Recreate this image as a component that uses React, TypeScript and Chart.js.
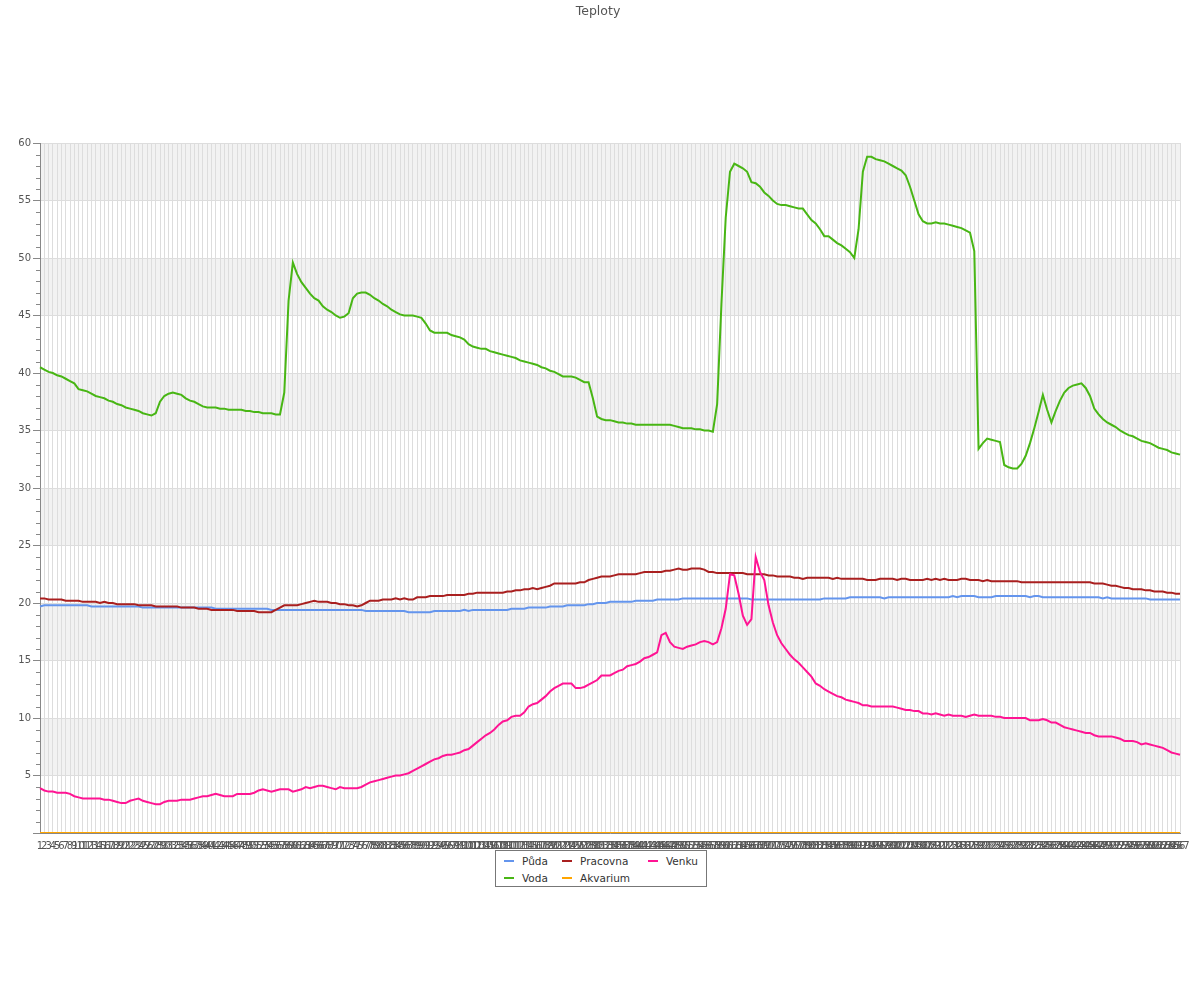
import React, { useEffect, useRef } from 'react';
import { Chart, registerables } from 'chart.js';

Chart.register(...registerables);

const FONT = "'DejaVu Sans', sans-serif";

// Category labels 1..267
const labels: string[] = Array.from({ length: 267 }, (_, i) => String(i + 1));

const yTicks = [0, 5, 10, 15, 20, 25, 30, 35, 40, 45, 50, 55, 60];

const puda = [
  19.7, 19.8, 19.8, 19.8, 19.8, 19.8, 19.8, 19.8, 19.8, 19.8,
  19.8, 19.8, 19.7, 19.7, 19.7, 19.7, 19.7, 19.7, 19.7, 19.7,
  19.7, 19.7, 19.7, 19.7, 19.6, 19.6, 19.6, 19.6, 19.6, 19.6,
  19.6, 19.6, 19.6, 19.6, 19.6, 19.6, 19.6, 19.6, 19.6, 19.6,
  19.6, 19.5, 19.5, 19.5, 19.5, 19.5, 19.5, 19.5, 19.5, 19.5,
  19.5, 19.5, 19.5, 19.5, 19.4, 19.4, 19.4, 19.4, 19.4, 19.4,
  19.4, 19.4, 19.4, 19.4, 19.4, 19.4, 19.4, 19.4, 19.4, 19.4,
  19.4, 19.4, 19.4, 19.4, 19.4, 19.4, 19.3, 19.3, 19.3, 19.3,
  19.3, 19.3, 19.3, 19.3, 19.3, 19.3, 19.2, 19.2, 19.2, 19.2,
  19.2, 19.2, 19.3, 19.3, 19.3, 19.3, 19.3, 19.3, 19.3, 19.4,
  19.3, 19.4, 19.4, 19.4, 19.4, 19.4, 19.4, 19.4, 19.4, 19.4,
  19.5, 19.5, 19.5, 19.5, 19.6, 19.6, 19.6, 19.6, 19.6, 19.7,
  19.7, 19.7, 19.7, 19.8, 19.8, 19.8, 19.8, 19.8, 19.9, 19.9,
  20.0, 20.0, 20.0, 20.1, 20.1, 20.1, 20.1, 20.1, 20.1, 20.2,
  20.2, 20.2, 20.2, 20.2, 20.3, 20.3, 20.3, 20.3, 20.3, 20.3,
  20.4, 20.4, 20.4, 20.4, 20.4, 20.4, 20.4, 20.4, 20.4, 20.4,
  20.4, 20.4, 20.4, 20.4, 20.4, 20.4, 20.3, 20.3, 20.3, 20.3,
  20.3, 20.3, 20.3, 20.3, 20.3, 20.3, 20.3, 20.3, 20.3, 20.3,
  20.3, 20.3, 20.3, 20.4, 20.4, 20.4, 20.4, 20.4, 20.4, 20.5,
  20.5, 20.5, 20.5, 20.5, 20.5, 20.5, 20.5, 20.4, 20.5, 20.5,
  20.5, 20.5, 20.5, 20.5, 20.5, 20.5, 20.5, 20.5, 20.5, 20.5,
  20.5, 20.5, 20.5, 20.6, 20.5, 20.6, 20.6, 20.6, 20.6, 20.5,
  20.5, 20.5, 20.5, 20.6, 20.6, 20.6, 20.6, 20.6, 20.6, 20.6,
  20.6, 20.5, 20.6, 20.6, 20.5, 20.5, 20.5, 20.5, 20.5, 20.5,
  20.5, 20.5, 20.5, 20.5, 20.5, 20.5, 20.5, 20.5, 20.4, 20.5,
  20.4, 20.4, 20.4, 20.4, 20.4, 20.4, 20.4, 20.4, 20.4, 20.3,
  20.3, 20.3, 20.3, 20.3, 20.3, 20.3, 20.3,
];

const voda = [
  40.5, 40.3, 40.1, 40.0, 39.8, 39.7, 39.5, 39.3, 39.1, 38.6,
  38.5, 38.4, 38.2, 38.0, 37.9, 37.8, 37.6, 37.5, 37.3, 37.2,
  37.0, 36.9, 36.8, 36.7, 36.5, 36.4, 36.3, 36.5, 37.5, 38.0,
  38.2, 38.3, 38.2, 38.1, 37.8, 37.6, 37.5, 37.3, 37.1, 37.0,
  37.0, 37.0, 36.9, 36.9, 36.8, 36.8, 36.8, 36.8, 36.7, 36.7,
  36.6, 36.6, 36.5, 36.5, 36.5, 36.4, 36.4, 38.3, 46.3, 49.6,
  48.6, 47.9, 47.4, 46.9, 46.5, 46.3, 45.8, 45.5, 45.3, 45.0,
  44.8, 44.9, 45.2, 46.5, 46.9, 47.0, 47.0, 46.8, 46.5, 46.3,
  46.0, 45.8, 45.5, 45.3, 45.1, 45.0, 45.0, 45.0, 44.9, 44.8,
  44.3, 43.7, 43.5, 43.5, 43.5, 43.5, 43.3, 43.2, 43.1, 42.9,
  42.5, 42.3, 42.2, 42.1, 42.1, 41.9, 41.8, 41.7, 41.6, 41.5,
  41.4, 41.3, 41.1, 41.0, 40.9, 40.8, 40.7, 40.5, 40.4, 40.2,
  40.1, 39.9, 39.7, 39.7, 39.7, 39.6, 39.4, 39.2, 39.2, 37.8,
  36.2, 36.0, 35.9, 35.9, 35.8, 35.7, 35.7, 35.6, 35.6, 35.5,
  35.5, 35.5, 35.5, 35.5, 35.5, 35.5, 35.5, 35.5, 35.4, 35.3,
  35.2, 35.2, 35.2, 35.1, 35.1, 35.0, 35.0, 34.9, 37.3, 46.0,
  53.5, 57.5, 58.2, 58.0, 57.8, 57.5, 56.6, 56.5, 56.2, 55.7,
  55.4, 55.0, 54.7, 54.6, 54.6, 54.5, 54.4, 54.3, 54.3, 53.8,
  53.3, 53.0, 52.5, 51.9, 51.9, 51.6, 51.3, 51.1, 50.8, 50.5,
  50.0, 52.5, 57.5, 58.8, 58.8, 58.6, 58.5, 58.4, 58.2, 58.0,
  57.8, 57.6, 57.2, 56.2, 55.0, 53.8, 53.2, 53.0, 53.0, 53.1,
  53.0, 53.0, 52.9, 52.8, 52.7, 52.6, 52.4, 52.2, 50.6, 33.4,
  33.9, 34.3, 34.2, 34.1, 34.0, 32.0, 31.8, 31.7, 31.7, 32.1,
  32.8, 33.9, 35.2, 36.6, 38.1, 36.8, 35.7, 36.7, 37.6, 38.3,
  38.7, 38.9, 39.0, 39.1, 38.7, 38.0, 36.9, 36.4, 36.0, 35.7,
  35.5, 35.3, 35.0, 34.8, 34.6, 34.5, 34.3, 34.1, 34.0, 33.9,
  33.7, 33.5, 33.4, 33.3, 33.1, 33.0, 32.9,
];

const pracovna = [
  20.4, 20.4, 20.3, 20.3, 20.3, 20.3, 20.2, 20.2, 20.2, 20.2,
  20.1, 20.1, 20.1, 20.1, 20.0, 20.1, 20.0, 20.0, 19.9, 19.9,
  19.9, 19.9, 19.9, 19.8, 19.8, 19.8, 19.8, 19.7, 19.7, 19.7,
  19.7, 19.7, 19.7, 19.6, 19.6, 19.6, 19.6, 19.5, 19.5, 19.5,
  19.4, 19.4, 19.4, 19.4, 19.4, 19.4, 19.3, 19.3, 19.3, 19.3,
  19.3, 19.2, 19.2, 19.2, 19.2, 19.4, 19.6, 19.8, 19.8, 19.8,
  19.8, 19.9, 20.0, 20.1, 20.2, 20.1, 20.1, 20.1, 20.0, 20.0,
  19.9, 19.9, 19.8, 19.8, 19.7, 19.8, 20.0, 20.2, 20.2, 20.2,
  20.3, 20.3, 20.3, 20.4, 20.3, 20.4, 20.3, 20.3, 20.5, 20.5,
  20.5, 20.6, 20.6, 20.6, 20.6, 20.7, 20.7, 20.7, 20.7, 20.7,
  20.8, 20.8, 20.9, 20.9, 20.9, 20.9, 20.9, 20.9, 20.9, 21.0,
  21.0, 21.1, 21.1, 21.2, 21.2, 21.3, 21.2, 21.3, 21.4, 21.5,
  21.7, 21.7, 21.7, 21.7, 21.7, 21.7, 21.8, 21.8, 22.0, 22.1,
  22.2, 22.3, 22.3, 22.3, 22.4, 22.5, 22.5, 22.5, 22.5, 22.5,
  22.6, 22.7, 22.7, 22.7, 22.7, 22.7, 22.8, 22.8, 22.9, 23.0,
  22.9, 22.9, 23.0, 23.0, 23.0, 22.9, 22.7, 22.7, 22.6, 22.6,
  22.6, 22.6, 22.6, 22.6, 22.6, 22.5, 22.5, 22.5, 22.5, 22.5,
  22.4, 22.4, 22.3, 22.3, 22.3, 22.3, 22.2, 22.2, 22.1, 22.2,
  22.2, 22.2, 22.2, 22.2, 22.2, 22.1, 22.2, 22.1, 22.1, 22.1,
  22.1, 22.1, 22.1, 22.0, 22.0, 22.0, 22.1, 22.1, 22.1, 22.1,
  22.0, 22.1, 22.1, 22.0, 22.0, 22.0, 22.0, 22.1, 22.0, 22.1,
  22.0, 22.1, 22.0, 22.0, 22.0, 22.1, 22.1, 22.0, 22.0, 22.0,
  21.9, 22.0, 21.9, 21.9, 21.9, 21.9, 21.9, 21.9, 21.9, 21.8,
  21.8, 21.8, 21.8, 21.8, 21.8, 21.8, 21.8, 21.8, 21.8, 21.8,
  21.8, 21.8, 21.8, 21.8, 21.8, 21.8, 21.7, 21.7, 21.7, 21.6,
  21.5, 21.5, 21.4, 21.3, 21.3, 21.2, 21.2, 21.2, 21.1, 21.1,
  21.0, 21.0, 21.0, 20.9, 20.9, 20.8, 20.8,
];

const akvarium = [
  0, 0, 0, 0, 0, 0, 0, 0, 0, 0, 0, 0, 0, 0, 0, 0, 0, 0, 0, 0,
  0, 0, 0, 0, 0, 0, 0, 0, 0, 0, 0, 0, 0, 0, 0, 0, 0, 0, 0, 0,
  0, 0, 0, 0, 0, 0, 0, 0, 0, 0, 0, 0, 0, 0, 0, 0, 0, 0, 0, 0,
  0, 0, 0, 0, 0, 0, 0, 0, 0, 0, 0, 0, 0, 0, 0, 0, 0, 0, 0, 0,
  0, 0, 0, 0, 0, 0, 0, 0, 0, 0, 0, 0, 0, 0, 0, 0, 0, 0, 0, 0,
  0, 0, 0, 0, 0, 0, 0, 0, 0, 0, 0, 0, 0, 0, 0, 0, 0, 0, 0, 0,
  0, 0, 0, 0, 0, 0, 0, 0, 0, 0, 0, 0, 0, 0, 0, 0, 0, 0, 0, 0,
  0, 0, 0, 0, 0, 0, 0, 0, 0, 0, 0, 0, 0, 0, 0, 0, 0, 0, 0, 0,
  0, 0, 0, 0, 0, 0, 0, 0, 0, 0, 0, 0, 0, 0, 0, 0, 0, 0, 0, 0,
  0, 0, 0, 0, 0, 0, 0, 0, 0, 0, 0, 0, 0, 0, 0, 0, 0, 0, 0, 0,
  0, 0, 0, 0, 0, 0, 0, 0, 0, 0, 0, 0, 0, 0, 0, 0, 0, 0, 0, 0,
  0, 0, 0, 0, 0, 0, 0, 0, 0, 0, 0, 0, 0, 0, 0, 0, 0, 0, 0, 0,
  0, 0, 0, 0, 0, 0, 0, 0, 0, 0, 0, 0, 0, 0, 0, 0, 0, 0, 0, 0,
  0, 0, 0, 0, 0, 0, 0,
];

const venku = [
  3.9, 3.7, 3.6, 3.6, 3.5, 3.5, 3.5, 3.4, 3.2, 3.1,
  3.0, 3.0, 3.0, 3.0, 3.0, 2.9, 2.9, 2.8, 2.7, 2.6,
  2.6, 2.8, 2.9, 3.0, 2.8, 2.7, 2.6, 2.5, 2.5, 2.7,
  2.8, 2.8, 2.8, 2.9, 2.9, 2.9, 3.0, 3.1, 3.2, 3.2,
  3.3, 3.4, 3.3, 3.2, 3.2, 3.2, 3.4, 3.4, 3.4, 3.4,
  3.5, 3.7, 3.8, 3.7, 3.6, 3.7, 3.8, 3.8, 3.8, 3.6,
  3.7, 3.8, 4.0, 3.9, 4.0, 4.1, 4.1, 4.0, 3.9, 3.8,
  4.0, 3.9, 3.9, 3.9, 3.9, 4.0, 4.2, 4.4, 4.5, 4.6,
  4.7, 4.8, 4.9, 5.0, 5.0, 5.1, 5.2, 5.4, 5.6, 5.8,
  6.0, 6.2, 6.4, 6.5, 6.7, 6.8, 6.8, 6.9, 7.0, 7.2,
  7.3, 7.6, 7.9, 8.2, 8.5, 8.7, 9.0, 9.4, 9.7, 9.8,
  10.1, 10.2, 10.2, 10.5, 11.0, 11.2, 11.3, 11.6, 11.9, 12.3,
  12.6, 12.8, 13.0, 13.0, 13.0, 12.6, 12.6, 12.7, 12.9, 13.1,
  13.3, 13.7, 13.7, 13.7, 13.9, 14.1, 14.2, 14.5, 14.6, 14.7,
  14.9, 15.2, 15.3, 15.5, 15.7, 17.2, 17.4, 16.6, 16.2, 16.1,
  16.0, 16.2, 16.3, 16.4, 16.6, 16.7, 16.6, 16.4, 16.6, 17.8,
  19.5, 22.5, 22.4, 20.8, 18.9, 18.1, 18.6, 24.0, 22.7, 22.0,
  19.8, 18.3, 17.2, 16.5, 16.0, 15.5, 15.1, 14.8, 14.4, 14.0,
  13.6, 13.0, 12.8, 12.5, 12.3, 12.1, 11.9, 11.8, 11.6, 11.5,
  11.4, 11.3, 11.1, 11.1, 11.0, 11.0, 11.0, 11.0, 11.0, 11.0,
  10.9, 10.8, 10.7, 10.7, 10.6, 10.6, 10.4, 10.4, 10.3, 10.4,
  10.3, 10.2, 10.3, 10.2, 10.2, 10.2, 10.1, 10.2, 10.3, 10.2,
  10.2, 10.2, 10.2, 10.1, 10.1, 10.0, 10.0, 10.0, 10.0, 10.0,
  10.0, 9.8, 9.8, 9.8, 9.9, 9.8, 9.6, 9.6, 9.4, 9.2,
  9.1, 9.0, 8.9, 8.8, 8.7, 8.7, 8.5, 8.4, 8.4, 8.4,
  8.4, 8.3, 8.2, 8.0, 8.0, 8.0, 7.9, 7.7, 7.8, 7.7,
  7.6, 7.5, 7.4, 7.2, 7.0, 6.9, 6.8,
];

const seriesNames = ['Půda', 'Voda', 'Pracovna', 'Akvarium', 'Venku'];
const seriesColors = ['#6495ed', '#48b614', '#a91f1f', '#ffa500', '#ff1493'];
const seriesValues = [puda, voda, pracovna, akvarium, venku];

const bandsPlugin = {
  id: 'bands',
  beforeDraw(chart: any) {
    const { ctx, chartArea: a, scales } = chart;
    const y = scales.y;
    ctx.save();
    ctx.fillStyle = '#f2f2f2';
    for (let v = 5; v < 60; v += 10) {
      const top = y.getPixelForValue(v + 5);
      const bottom = y.getPixelForValue(v);
      ctx.fillRect(a.left, top, a.right - a.left, bottom - top);
    }
    ctx.restore();
  },
};

const minorTicksPlugin = {
  id: 'minorTicks',
  afterDraw(chart: any) {
    const { ctx, chartArea: a, scales } = chart;
    const y = scales.y;
    ctx.save();
    ctx.strokeStyle = '#888';
    ctx.lineWidth = 1;
    ctx.beginPath();
    for (let v = 1; v < 60; v++) {
      if (v % 5 === 0) continue;
      const py = Math.round(y.getPixelForValue(v)) + 0.5;
      ctx.moveTo(a.left - 4, py);
      ctx.lineTo(a.left, py);
    }
    ctx.stroke();
    ctx.restore();
  },
};

// Legend layout (3 columns, 2 rows, filled column by column)
const legendColX = [8, 66, 152];
const legendRowY = [10, 26.5];

export default function App() {
  const canvasRef = useRef<HTMLCanvasElement | null>(null);

  useEffect(() => {
    if (!canvasRef.current) return;
    const chart = new Chart(canvasRef.current, {
      type: 'line',
      data: {
        labels,
        datasets: seriesNames.map((name, i) => ({
          label: name,
          data: seriesValues[i],
          borderColor: seriesColors[i],
          backgroundColor: seriesColors[i],
          borderWidth: 2,
          pointRadius: 0,
          tension: 0,
          fill: false,
          order: seriesNames.length - i,
        })),
      },
      options: {
        animation: false,
        responsive: false,
        devicePixelRatio: 1,
        layout: { padding: { left: 16, right: 20, top: 0, bottom: 142 } },
        plugins: {
          legend: { display: false },
          tooltip: { enabled: false },
          title: {
            display: true,
            text: 'Teploty',
            color: '#555',
            font: { family: FONT, size: 12.5, weight: 'normal' },
            padding: { top: 4, bottom: 124 },
          },
        },
        scales: {
          x: {
            type: 'category',
            offset: false,
            grid: { color: '#dddddd', drawTicks: false, offset: false },
            border: { display: true, color: '#888' },
            ticks: {
              autoSkip: false,
              maxRotation: 0,
              minRotation: 0,
              color: '#555',
              padding: 7,
              font: { family: FONT, size: 10 },
            },
            afterFit(scale: any) {
              scale.height = 25;
            },
          },
          y: {
            min: 0,
            max: 60,
            afterBuildTicks(scale: any) {
              scale.ticks = yTicks.map((v) => ({ value: v }));
            },
            grid: { color: '#dddddd', tickLength: 7, tickColor: '#888' },
            border: { display: true, color: '#888' },
            ticks: {
              color: '#555',
              padding: 2,
              font: { family: FONT, size: 10 },
              callback: (v: any) => (Number(v) === 0 ? '' : String(v)),
            },
            afterFit(scale: any) {
              scale.width = 24;
            },
          },
        },
      },
      plugins: [bandsPlugin, minorTicksPlugin],
    } as any);
    return () => chart.destroy();
  }, []);

  return (
    <div style={{ position: 'absolute', left: 0, top: 0, width: 1200, height: 1000, background: '#fff' }}>
      <canvas ref={canvasRef} width={1200} height={1000} style={{ display: 'block' }} />
      <div
        style={{
          position: 'absolute',
          left: 495,
          top: 850,
          width: 210,
          height: 35,
          border: '1px solid #777',
          background: '#fff',
          fontFamily: FONT,
          fontSize: 10.5,
          color: '#333',
        }}
      >
        {seriesNames.map((name, i) => {
          const col = Math.floor(i / 2);
          const row = i % 2;
          const x = legendColX[col];
          const y = legendRowY[row];
          return (
            <React.Fragment key={name}>
              <div
                style={{
                  position: 'absolute',
                  left: x,
                  top: y - 1,
                  width: 10,
                  height: 2,
                  background: seriesColors[i],
                }}
              />
              <div
                style={{
                  position: 'absolute',
                  left: x + 18,
                  top: y - 7,
                  height: 14,
                  lineHeight: '14px',
                  whiteSpace: 'nowrap',
                }}
              >
                {name}
              </div>
            </React.Fragment>
          );
        })}
      </div>
    </div>
  );
}
